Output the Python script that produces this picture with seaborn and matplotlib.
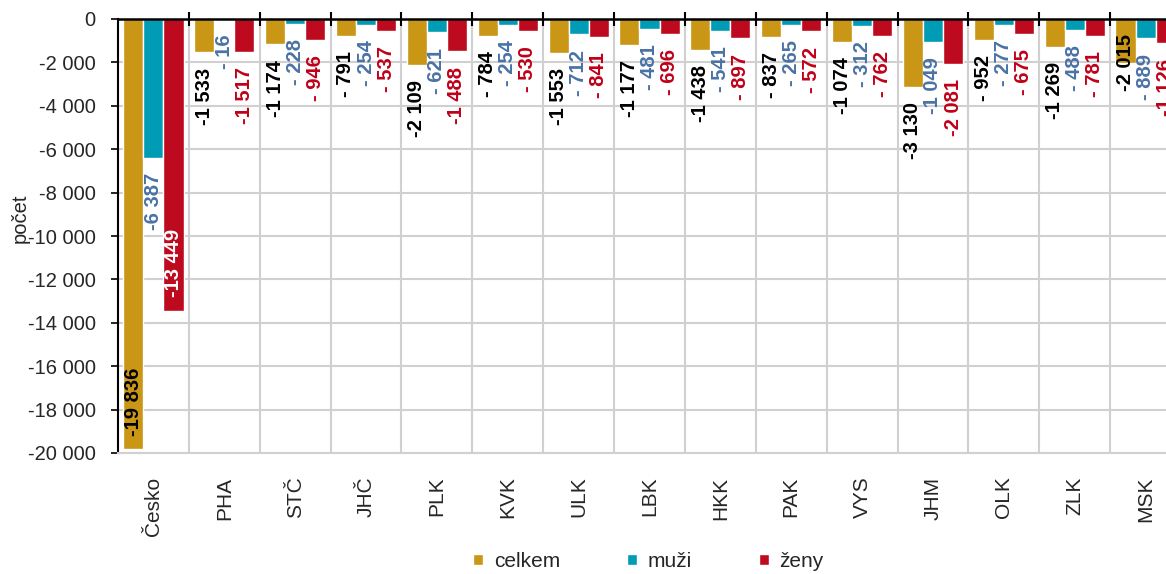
import numpy as np
import pandas as pd
import matplotlib.pyplot as plt
import seaborn as sns

# Regions and values
kraje = ['Česko', 'PHA', 'STČ', 'JHČ', 'PLK', 'KVK', 'ULK', 'LBK',
         'HKK', 'PAK', 'VYS', 'JHM', 'OLK', 'ZLK', 'MSK']
celkem = [-19836, -1533, -1174, -791, -2109, -784, -1553, -1177,
          -1438, -837, -1074, -3130, -952, -1269, -2015]
muzi = [-6387, -16, -228, -254, -621, -254, -712, -481,
        -541, -265, -312, -1049, -277, -488, -889]
zeny = [-13449, -1517, -946, -537, -1488, -530, -841, -696,
        -897, -572, -762, -2081, -675, -781, -1126]
serie = ['celkem', 'muži', 'ženy']
y_ticks = list(range(-20000, 1, 2000))

barvy = {'celkem': '#C99615', 'muži': '#009BB4', 'ženy': '#BE0A1E'}
barvy_popisku = {'celkem': 'black', 'muži': '#4A72A6', 'ženy': '#C00018'}

df = pd.DataFrame({
    'kraj': kraje * 3,
    'hodnota': celkem + muzi + zeny,
    'pohlavi': [s for s in serie for _ in kraje],
})

sns.set_style('white')
plt.rcParams['font.family'] = ['Liberation Sans', 'DejaVu Sans']

fig = plt.figure(figsize=(11.66, 5.74), dpi=100)
ax = fig.add_axes([118 / 1166, 1 - 453 / 574, 1063 / 1166, (453 - 19) / 574])

sns.barplot(data=df, x='kraj', y='hodnota', hue='pohlavi', hue_order=serie,
            palette=barvy, width=0.85, saturation=1, ax=ax, legend=True)

handles, labels = ax.get_legend_handles_labels()
ax.get_legend().remove()


def fmt(v):
    v = int(round(v))
    s = f"{abs(v):,}".replace(",", " ")
    return ("- " if abs(v) < 1000 else "-") + s


# data labels
for name, cont in zip(serie, ax.containers):
    for i, bar in enumerate(cont):
        h = bar.get_height()
        x = bar.get_x() + bar.get_width() / 2
        col = barvy_popisku[name]
        if kraje[i] == 'Česko' and name != 'muži':
            # inside the bar, near its end
            if name == 'ženy':
                col = 'white'
            ax.annotate(fmt(h), (x, h), xytext=(0, 10), textcoords='offset points',
                        rotation=90, ha='center', va='bottom', color=col,
                        fontsize=14.5, fontweight='bold')
        elif kraje[i] == 'MSK' and name == 'celkem':
            ax.annotate(fmt(h), (x, h), xytext=(0, 0), textcoords='offset points',
                        rotation=90, ha='center', va='center', color=col,
                        fontsize=14.5, fontweight='bold')
        else:
            ax.annotate(fmt(h), (x, h), xytext=(0, -11), textcoords='offset points',
                        rotation=90, ha='center', va='top', color=col,
                        fontsize=14.5, fontweight='bold')

ax.set_xlim(-0.5, len(kraje) - 0.5)
ax.set_ylim(-20000, 0)

# y axis
ax.set_yticks(y_ticks)
ax.set_yticklabels([f"{v:,}".replace(",", " ") for v in y_ticks], fontsize=14.5)
ax.tick_params(axis='y', which='major', left=True, length=5, width=1.2,
               color='black', direction='out', pad=11)
ax.set_ylabel('počet', fontsize=14.5)
ax.yaxis.set_label_coords(-0.083, 0.54)

# x axis: labels at bottom, boundary ticks on the zero line
ax.set_xticks(range(len(kraje)))
ax.set_xticklabels(kraje, rotation=90, fontsize=15)
ax.tick_params(axis='x', which='major', length=0, pad=17)
ax.set_xticks(np.arange(0.5, len(kraje) - 0.5, 1), minor=True)
ax.tick_params(axis='x', which='minor', bottom=False, top=True, length=10,
               width=1.5, direction='inout', color='black')
ax.set_xlabel('')

ax.grid(axis='y', which='major', color='#D0D0D0', linewidth=1.5)
ax.grid(axis='x', which='minor', color='#D0D0D0', linewidth=1.5)
ax.set_axisbelow(True)

ax.spines['top'].set_color('black')
ax.spines['top'].set_linewidth(1.8)
ax.spines['top'].set_zorder(5)
ax.spines['left'].set_color('black')
ax.spines['left'].set_linewidth(1.5)
ax.spines['bottom'].set_color('#D0D0D0')
ax.spines['bottom'].set_linewidth(1.5)
ax.spines['right'].set_visible(False)

fig.legend(handles, labels, loc='center', bbox_to_anchor=(0.556, 0.022), ncol=3,
           frameon=False, fontsize=15, handlelength=0.5, handleheight=0.5,
           handletextpad=0.5, columnspacing=3.2, borderpad=0.1)

fig.savefig('out.png', dpi=100)
